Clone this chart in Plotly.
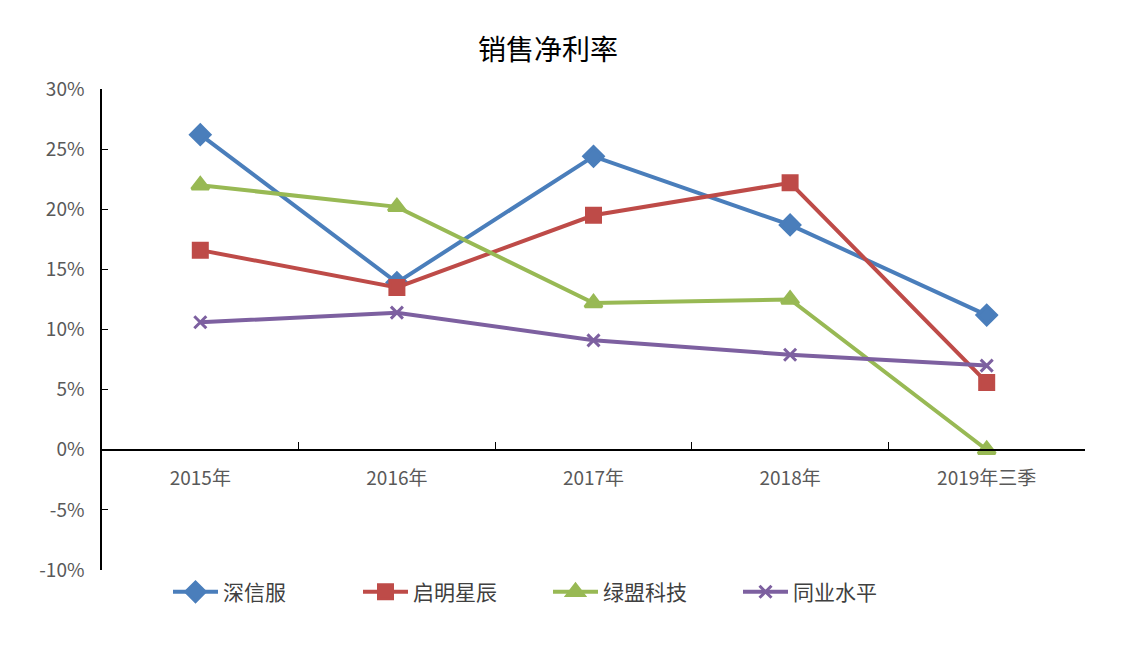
import plotly.graph_objects as go

categories = ["2015年", "2016年", "2017年", "2018年", "2019年三季"]
sangfor = [26.2, 13.9, 24.4, 18.7, 11.2]
venustech = [16.6, 13.5, 19.5, 22.2, 5.6]
nsfocus = [22.0, 20.2, 12.2, 12.5, 0.0]
industry = [10.6, 11.4, 9.1, 7.9, 7.0]
y_ticks = [-10, -5, 0, 5, 10, 15, 20, 25, 30]
y_tick_text = ["-10%", "-5%", "0%", "5%", "10%", "15%", "20%", "25%", "30%"]

series = [
    ("深信服", sangfor, "#4A7EBB", "diamond", 15),
    ("启明星辰", venustech, "#BE4B48", "square", 14),
    ("绿盟科技", nsfocus, "#98B954", "triangle-up", 15),
    ("同业水平", industry, "#7D60A0", "x-thin", 12),
]

fig = go.Figure()
for name, vals, color, sym, size in series:
    fig.add_trace(go.Scatter(
        x=categories, y=vals, name=name, mode="lines+markers",
        line=dict(color=color, width=4),
        marker=dict(symbol=sym, size=size, color=color,
                    line=dict(color=color, width=3)),
    ))

font_cjk = "Noto Sans CJK SC"
fig.update_layout(
    width=1134, height=646,
    margin=dict(l=102, r=49, t=89, b=76),
    paper_bgcolor="white", plot_bgcolor="white",
    font=dict(family=font_cjk, color="#595959"),
    title=dict(text="销售净利率", x=548/1134, xref="container", xanchor="center",
               y=1-50/646, yref="container", yanchor="middle",
               font=dict(size=28, color="#000000", family=font_cjk)),
    legend=dict(orientation="h", x=(168-102)/983, xanchor="left", y=-0.046, yanchor="middle",
                font=dict(size=21, color="#404040", family=font_cjk),
                itemwidth=45, entrywidth=130, tracegroupgap=0, bgcolor="rgba(0,0,0,0)"),
    showlegend=True,
)
fig.update_yaxes(range=[-10, 30], tickvals=y_ticks, ticktext=y_tick_text,
                 showgrid=False, zeroline=False, showline=True, linecolor="#000000",
                 linewidth=1.5, ticks="inside", ticklen=6, tickcolor="#000000",
                 tickfont=dict(size=19, color="#595959"), ticklabelstandoff=12)
fig.update_xaxes(type="category", range=[-0.5, 4.5], anchor="free", position=0.25,
                 showgrid=False, zeroline=False, showline=True, linecolor="#000000",
                 linewidth=1.5, ticks="inside", ticklen=7, tickcolor="#000000",
                 tickson="boundaries", tickfont=dict(size=19, color="#595959"),
                 ticklabelstandoff=12)

fig.write_html("out.html")
